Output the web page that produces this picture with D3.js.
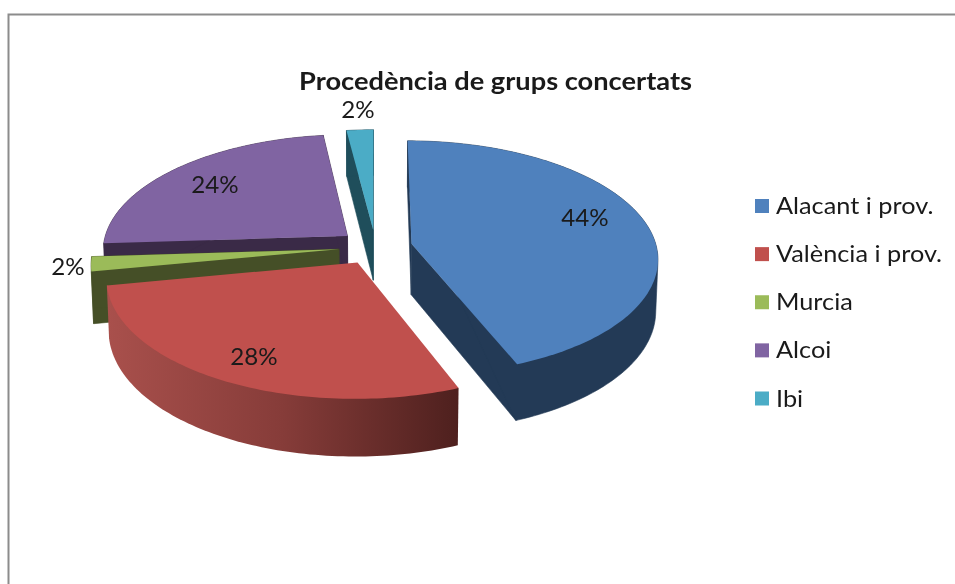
<!DOCTYPE html>
<html lang="ca">
<head>
<meta charset="utf-8">
<title>Procedència de grups concertats</title>
<script src="https://cdn.jsdelivr.net/npm/d3@7/dist/d3.min.js"></script>
<style>
html,body{margin:0;padding:0;background:#fff;overflow:hidden}
svg{display:block;filter:blur(0.4px)}
text{font-family:Lato,"Open Sans",sans-serif;fill:#1a1a1a}
</style>
</head>
<body>
<svg id="chart" width="955" height="584"></svg>
<script>
const chartTitle = "Procedència de grups concertats";
const categories = ["Alacant i prov.", "València i prov.", "Murcia", "Alcoi", "Ibi"];
const shares = [44, 28, 2, 24, 2];
const topColors = ["#4f81bd", "#c0504d", "#9bbb59", "#8064a2", "#4bacc6"];
const wallColors = ["#233a56", "#7a3533", "#454f27", "#3a2a47", "#1f4e5b"];
const paintOrder = [4, 3, 2, 0, 1];

const svg = d3.select("#chart");
const W = 955, H = 584;

// Frame of the picture
svg.append("path")
  .attr("d", d3.line()([[8.5, H], [8.5, 14.5], [W, 14.5]]))
  .attr("fill", "none").attr("stroke", "#8c8c8c").attr("stroke-width", 2);

// Perspective projection of the pie: radius 1, height from z=0 (top) to z=-1 (base)
const cam = {x0: 375.5, y0: 247, F: 245, S: 116, T: 51.5, c: 0.12, e: 0.008};
const explode = 0.15;
function project(x, y, z) {
  const w = 1 + cam.c * y - cam.e * z;
  return [cam.x0 + cam.F * x / w, cam.y0 - (cam.S * y + cam.T * z) / w];
}

const arcs = d3.pie().sort(null).value(d => d)(shares);
const line = d3.line();
const defs = svg.append("defs");

function sliceGeom(a) {
  const mid = (a.startAngle + a.endAngle) / 2;
  const ox = explode * Math.sin(mid), oy = explode * Math.cos(mid);
  const steps = Math.max(3, Math.ceil((a.endAngle - a.startAngle) / 0.02));
  const thetas = d3.range(steps + 1).map(i => a.startAngle + (a.endAngle - a.startAngle) * i / steps);
  const rim = z => thetas.map(t => project(ox + Math.sin(t), oy + Math.cos(t), z));
  return {ox, oy, thetas, rim, apex: z => project(ox, oy, z)};
}

// Side shading of the front slice runs horizontally across its rim
const redRim = sliceGeom(arcs[1]).rim(0);
const grad = defs.append("linearGradient").attr("id", "rimShade")
  .attr("gradientUnits", "userSpaceOnUse")
  .attr("x1", d3.min(redRim, p => p[0])).attr("x2", d3.max(redRim, p => p[0]))
  .attr("y1", 0).attr("y2", 0);
grad.append("stop").attr("offset", "0").attr("stop-color", "#a9504c");
grad.append("stop").attr("offset", "0.5").attr("stop-color", "#863c39");
grad.append("stop").attr("offset", "1").attr("stop-color", "#4e201e");

const pieG = svg.append("g");
paintOrder.forEach(i => {
  const g = sliceGeom(arcs[i]);
  const top = g.rim(0), base = g.rim(-1);
  const group = pieG.append("g");
  const wall = i === 1 ? "url(#rimShade)" : wallColors[i];
  const first = [top[0], base[0], g.apex(-1), g.apex(0)];
  const last = [top[top.length - 1], base[base.length - 1], g.apex(-1), g.apex(0)];
  if (i !== 1) {
    [first, last].forEach(face => group.append("path").attr("d", line(face) + "Z")
      .attr("fill", wallColors[i]).attr("stroke", wallColors[i]).attr("stroke-width", 0.6));
  }
  // The hull of both rims gives the straight silhouette of the cylinder side
  group.append("path").attr("d", line(d3.polygonHull(top.concat(base))) + "Z")
    .attr("fill", wall).attr("stroke", i === 1 ? "none" : wall).attr("stroke-width", 0.6);
  group.append("path").attr("d", line(top.concat([g.apex(0)])) + "Z").attr("fill", topColors[i]);
});

// Widen text slightly, as in the stretched original
function stretch(sel, factor) {
  sel.each(function () {
    this.setAttribute("lengthAdjust", "spacingAndGlyphs");
    this.setAttribute("textLength", this.getComputedTextLength() * factor);
  });
}

// Title
svg.append("text").attr("x", 299).attr("y", 90)
  .attr("font-size", 24.5).attr("font-weight", 700)
  .attr("textLength", 393).attr("lengthAdjust", "spacingAndGlyphs")
  .text(chartTitle);

// Percentage labels (same order as the slices)
const labelSpots = [[585, 226], [254, 365], [68, 275], [215, 193], [358, 118]];
svg.append("g").selectAll("text").data(shares).join("text")
  .attr("x", (d, i) => labelSpots[i][0])
  .attr("y", (d, i) => labelSpots[i][1])
  .attr("text-anchor", "middle").attr("font-size", 23)
  .text(d => d + "%")
  .call(stretch, 1.05);

// Legend
const legendY = d3.scalePoint().domain(categories).range([206, 398.5]);
const legend = svg.append("g").selectAll("g").data(categories).join("g")
  .attr("transform", d => `translate(755,${legendY(d)})`);
legend.append("rect").attr("x", 0).attr("y", -7).attr("width", 14).attr("height", 14)
  .attr("fill", (d, i) => topColors[i]);
legend.append("text").attr("x", 21).attr("y", 8).attr("font-size", 23).text(d => d)
  .call(stretch, 1.1);
</script>
</body>
</html>
